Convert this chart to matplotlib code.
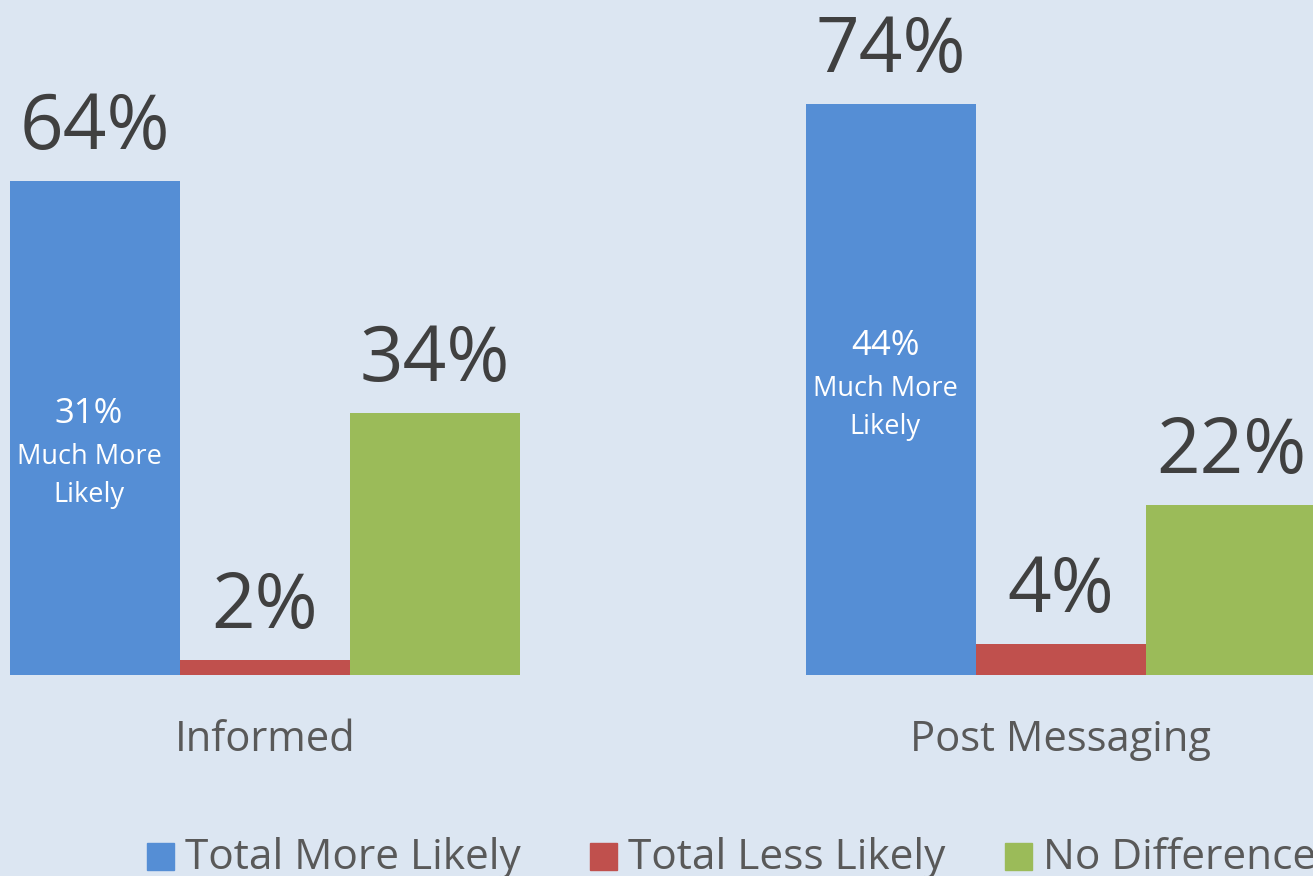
import matplotlib.pyplot as plt
from matplotlib.patches import Rectangle

# data
groups = ["Informed", "Post Messaging"]
series = ["Total More Likely", "Total Less Likely", "No Difference"]
more_likely = [64, 74]
less_likely = [2, 4]
no_diff = [34, 22]
much_more = [31, 44]

colors = ["#558ED5", "#C0504D", "#9BBB59"]
bg = "#DCE6F2"

plt.rcParams['font.family'] = ['Open Sans', 'DejaVu Sans']

fig = plt.figure(figsize=(13.13, 8.76), dpi=100, facecolor=bg)
ax = fig.add_axes([0, 0, 1, 1])
ax.set_facecolor(bg)
ax.axis("off")

# 1 unit = one bar width (170 px); y in percent (7.72 px per %)
px = 170.0
py = 7.72
ax.set_xlim(-1.5 - 10 / px, -1.5 + 1303 / px)
ax.set_ylim(-201 / py, 675 / py)

centers = [0, 796 / px]
inner_off = [233, 242]  # px below bar top for the inner note
values = [more_likely, less_likely, no_diff]
for g, c in enumerate(centers):
    for s in range(3):
        x = c + (s - 1)
        v = values[s][g]
        ax.bar(x, v, width=1.0, color=colors[s], edgecolor="none")
        ax.text(x, v + 32 / py, f"{v}%", ha="center", va="baseline",
                fontsize=55, color="#404040")
    # inner annotation in blue bar
    top = more_likely[g] * py - inner_off[g]
    bx = c - 1 - 6 / px
    ax.text(bx, top / py, f"{much_more[g]}%", ha="center", va="center",
            fontsize=25, color="white")
    ax.text(bx, (top - 43) / py, "Much More", ha="center", va="center",
            fontsize=19.5, color="white")
    ax.text(bx, (top - 81) / py, "Likely", ha="center", va="center",
            fontsize=19.5, color="white")
    ax.text(c, -76 / py, groups[g], ha="center", va="baseline",
            fontsize=30, color="#595959")

# legend
leg_x = [147, 590, 1005]
for s in range(3):
    x0 = -1.5 + (leg_x[s] - 10) / px
    ax.add_patch(Rectangle((x0, -195 / py), 27 / px, 27 / py,
                           color=colors[s], clip_on=False))
    ax.text(x0 + 38 / px, -194 / py, series[s], ha="left", va="baseline",
            fontsize=30.5, color="#595959")

fig.savefig("out.png", dpi=100, facecolor=bg)
